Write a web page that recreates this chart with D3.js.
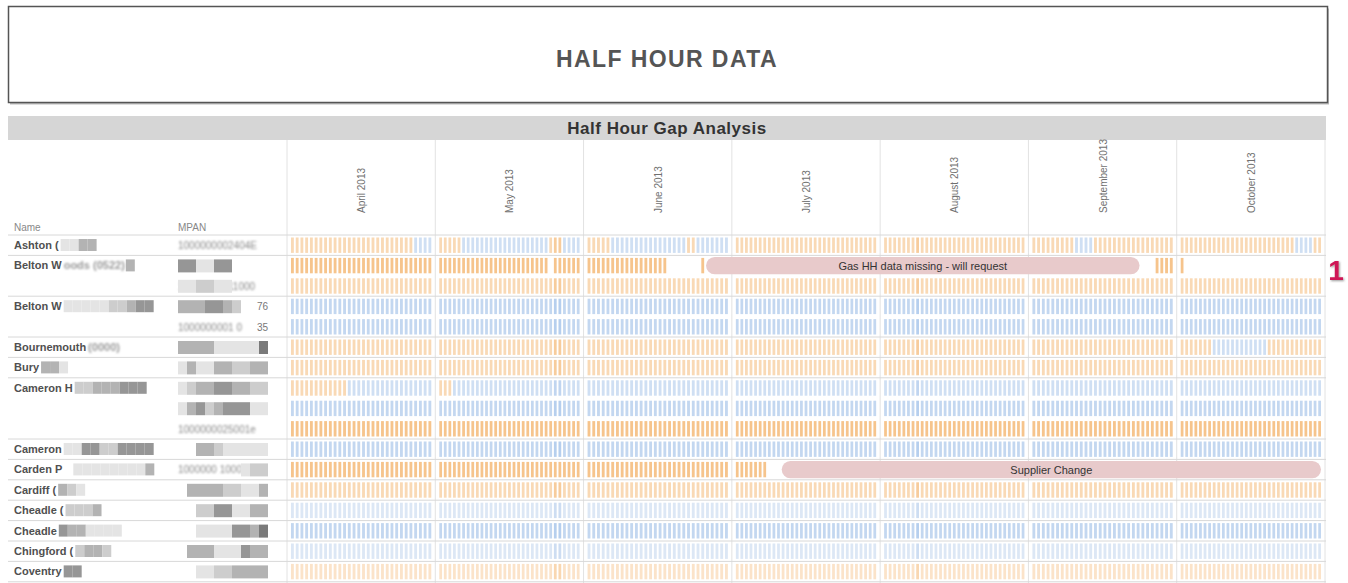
<!DOCTYPE html>
<html>
<head>
<meta charset="utf-8">
<script src="https://cdn.jsdelivr.net/npm/d3@7"></script>
<style>
  body { margin: 0; background: #fff; }
  svg { display: block; font-family: "Liberation Sans", Arial, sans-serif; }
</style>
</head>
<body>
<svg id="chart" width="1348" height="583"></svg>
<script>
// months across the top
const months = ["April 2013", "May 2013", "June 2013", "July 2013", "August 2013", "September 2013", "October 2013"];

// sites: readable part of the name, blurred part, mosaic tiles (shade digits), meters per site
const siteNames = ["Ashton (", "Belton W", "Belton W", "Bournemouth", "Bury", "Cameron H", "Cameron", "Carden P", "Cardiff (", "Cheadle (", "Cheadle", "Chingford (", "Coventry"];
const siteBlur = ["", "oods (0522)", "", "(0000)", "", "", "", "", "", "", "", "", ""];
const siteMask = ["1133", "3", "1111122344", "", "331", "22333444", "1144224444", "0111111113", "321", "2223", "4331111", "2332", "44"];
const siteMeters = [1, 2, 2, 1, 1, 3, 1, 1, 1, 1, 1, 1, 1];

// one entry per meter row: g = gas (orange), e = electricity (blue)
const meterType = ["g", "g", "g", "e", "e", "g", "g", "e", "e", "g", "e", "g", "g", "e", "e", "e", "g"];
const meterLevel = [2, 4, 2, 3, 3, 2, 2, 2, 3, 4, 3, 4, 2, 1, 3, 1, 1];
const meterSwitch = [
  [["2013-04-27", "2013-04-30", "e"], ["2013-05-06", "2013-05-24", "e"], ["2013-05-28", "2013-05-31", "e"],
   ["2013-06-06", "2013-06-21", "e"], ["2013-06-24", "2013-06-30", "e"], ["2013-09-10", "2013-09-13", "e"],
   ["2013-10-26", "2013-10-29", "e"]],
  [], [], [], [],
  [["2013-10-08", "2013-10-19", "e"]],
  [],
  [["2013-04-01", "2013-04-12", "g"], ["2013-05-01", "2013-05-03", "g"]],
  [], [], [], [], [], [], [], [], []
];
const meterGaps = [
  [],
  [["2013-05-25", "2013-05-25"], ["2013-06-18", "2013-06-24"], ["2013-06-26", "2013-09-26"], ["2013-10-02", "2013-10-31"]],
  [], [], [], [], [], [], [], [], [],
  [["2013-07-08", "2013-10-31"]],
  [], [], [], [], []
];
const mpanMask = ["", "441144", "1122110000", "3334432", "", "3333111115", "1311332233", "1233443322", "1342344411", "",
  "0033211111", "0000000122", "0333322113", "0022441133", "0011114435", "0333111433", "0011223333"];
const mpanFaint = ["1000000002404E", "", "10000000011000", "", "1000000001 0", "", "", "", "", "1000000025001e",
  "", "1000000 1000", "", "", "", "", ""];
const mpanSuffix = ["", "", "", "76", "35", "", "", "", "", "", "", "", "", "", "", "", ""];

// days where readings are heavier across most meters
const peakDays = ["2013-05-26", "2013-05-27", "2013-08-08"];

// notes drawn over a meter row
const notes = [
  { meter: 1, from: "2013-06-26", to: "2013-09-23", text: "Gas HH data missing - will request" },
  { meter: 11, from: "2013-07-11", to: "2013-10-31", text: "Supplier Change" }
];

const svg = d3.select("#chart");

const tableL = 8, tableR = 1326;
const dataL = 287, dataR = 1325;
const rowTop = 235, rowH = 20.4;

const parseDay = d3.timeParse("%Y-%m-%d");
const parseMonth = d3.timeParse("%B %Y");
const fmtMonth = d3.timeFormat("%B %Y");
const monthStart = months.map(parseMonth);

const xMonth = d3.scaleBand().domain(months).range([dataL, dataR]);
const dayScales = monthStart.map(m => d3.scaleBand()
  .domain(d3.range(1, d3.timeDay.count(m, d3.timeMonth.offset(m, 1)) + 1))
  .range([4, xMonth.bandwidth() - 4])
  .paddingInner(0.4));

const xDay = date => {
  const i = months.indexOf(fmtMonth(date));
  return xMonth(months[i]) + dayScales[i](date.getDate());
};
const dayW = date => dayScales[months.indexOf(fmtMonth(date))].bandwidth();

const nMeters = meterType.length;
const yRow = d3.scaleBand().domain(d3.range(nMeters)).range([rowTop, rowTop + nMeters * rowH]);

const ramp = {
  g: d3.scaleLinear().domain([1, 4]).range(["#fbe3c9", "#f6c48c"]).clamp(true),
  e: d3.scaleLinear().domain([1, 4]).range(["#dce7f5", "#b6cfee"]).clamp(true)
};
const greys = ["#ffffff", "#e4e4e4", "#cdcdcd", "#b3b3b3", "#969696", "#7a7a7a"];

// blur filter for redacted text
const defs = svg.append("defs");
defs.append("filter").attr("id", "blur").append("feGaussianBlur").attr("stdDeviation", 0.9);
const sh = defs.append("filter").attr("id", "shadow").attr("x", "-50%").attr("y", "-50%").attr("width", "200%").attr("height", "200%");
sh.append("feDropShadow").attr("dx", 1).attr("dy", 1).attr("stdDeviation", 0.8).attr("flood-color", "#555").attr("flood-opacity", 0.6);

/* top title box */
svg.append("rect").attr("x", 10).attr("y", 8.5).attr("width", 1319).attr("height", 96).attr("fill", "#bbb");
svg.append("rect").attr("x", 8.5).attr("y", 6.5).attr("width", 1319).attr("height", 96)
  .attr("fill", "#fff").attr("stroke", "#555").attr("stroke-width", 1.5);
svg.append("text").attr("x", 667).attr("y", 67).attr("text-anchor", "middle")
  .attr("font-size", 23).attr("font-weight", "bold").attr("fill", "#555")
  .attr("letter-spacing", 1.4)
  .text("HALF HOUR DATA");

/* grey band */
svg.append("rect").attr("x", tableL).attr("y", 116).attr("width", tableR - tableL).attr("height", 24).attr("fill", "#d6d6d6");
svg.append("text").attr("x", 667).attr("y", 134).attr("text-anchor", "middle")
  .attr("font-size", 17).attr("font-weight", "bold").attr("fill", "#333")
  .attr("letter-spacing", 0.5)
  .text("Half Hour Gap Analysis");

/* grid lines */
const grid = svg.append("g");
grid.selectAll("line.v").data(months.map(m => xMonth(m)).concat([dataR]))
  .enter().append("line")
  .attr("x1", d => d).attr("x2", d => d).attr("y1", 140).attr("y2", 583)
  .attr("stroke", "#e2e2e2");

const siteStart = siteMeters.map((n, i) => d3.sum(siteMeters.slice(0, i)));
const groupLines = [rowTop].concat(siteStart.slice(1).map(s => yRow(s))).concat([rowTop + nMeters * rowH]);
grid.selectAll("line.h").data(groupLines)
  .enter().append("line")
  .attr("x1", tableL).attr("x2", tableR).attr("y1", d => d).attr("y2", d => d)
  .attr("stroke", "#d8d8d8");

/* column headers */
svg.append("text").attr("x", 14).attr("y", 231).attr("font-size", 10).attr("fill", "#888").text("Name");
svg.append("text").attr("x", 178).attr("y", 231).attr("font-size", 10).attr("fill", "#888").text("MPAN");

svg.selectAll("text.month").data(months)
  .enter().append("text")
  .attr("transform", d => `translate(${xMonth(d) + xMonth.bandwidth() / 2 + 4}, 213) rotate(-90)`)
  .attr("font-size", 10).attr("fill", "#707070")
  .text(d => d);

/* bars */
const allDays = d3.timeDay.range(monthStart[0], d3.timeMonth.offset(monthStart[monthStart.length - 1], 1));
const inRange = (d, r) => d >= parseDay(r[0]) && d <= parseDay(r[1]);
const peaks = peakDays.map(p => +parseDay(p));

const bars = [];
meterType.forEach((type, i) => {
  allDays.forEach(day => {
    if (meterGaps[i].some(r => inRange(day, r))) return;
    let t = type;
    meterSwitch[i].forEach(r => { if (inRange(day, r)) t = r[2]; });
    const lvl = meterLevel[i] + (peaks.includes(+day) ? 1.2 : 0);
    bars.push({ meter: i, day: day, color: ramp[t](lvl) });
  });
});

svg.append("g").selectAll("rect").data(bars)
  .enter().append("rect")
  .attr("x", d => xDay(d.day))
  .attr("width", d => dayW(d.day))
  .attr("y", d => yRow(d.meter) + 2.5)
  .attr("height", rowH - 5)
  .attr("fill", d => d.color);

/* notes */
const noteG = svg.append("g").selectAll("g").data(notes).enter().append("g");
noteG.append("rect")
  .attr("x", d => xDay(parseDay(d.from)))
  .attr("width", d => xDay(parseDay(d.to)) + dayW(parseDay(d.to)) - xDay(parseDay(d.from)))
  .attr("y", d => yRow(d.meter) + 1.5)
  .attr("height", rowH - 3)
  .attr("rx", (rowH - 3) / 2)
  .attr("fill", "#e8cacb");
noteG.append("text")
  .attr("x", d => (xDay(parseDay(d.from)) + xDay(parseDay(d.to)) + dayW(parseDay(d.to))) / 2)
  .attr("y", d => yRow(d.meter) + rowH / 2 + 4)
  .attr("text-anchor", "middle").attr("font-size", 11).attr("fill", "#333")
  .text(d => d.text);

/* site names with redaction */
const drawTiles = (g, mask, x0, y, h) => {
  mask.split("").forEach((c, k) => {
    if (c === "0") return;
    g.append("rect").attr("x", x0 + k * 9).attr("y", y).attr("width", 9).attr("height", h).attr("fill", greys[+c]);
  });
};

siteNames.forEach((name, i) => {
  const y = yRow(siteStart[i]);
  const g = svg.append("g");
  const t = g.append("text").attr("x", 14).attr("y", y + 14)
    .attr("font-size", 11).attr("font-weight", "bold").attr("fill", "#505050").text(name);
  let x = 14 + t.node().getComputedTextLength() + 2;
  if (siteBlur[i]) {
    const b = g.append("text").attr("x", x).attr("y", y + 14)
      .attr("font-size", 11).attr("font-weight", "bold").attr("fill", "#9a9a9a")
      .attr("filter", "url(#blur)").text(siteBlur[i]);
    x += b.node().getComputedTextLength() + 1;
  }
  drawTiles(g, siteMask[i], x, y + 4, 12);
});

/* MPAN column */
d3.range(nMeters).forEach(i => {
  const y = yRow(i);
  const g = svg.append("g");
  if (mpanFaint[i]) {
    g.append("text").attr("x", 178).attr("y", y + 14).attr("font-size", 10)
      .attr("fill", "#8a8a8a").attr("filter", "url(#blur)").text(mpanFaint[i]);
  }
  drawTiles(g, mpanMask[i], 178, y + 4, 13);
  if (mpanSuffix[i]) {
    g.append("text").attr("x", 268).attr("y", y + 14).attr("text-anchor", "end")
      .attr("font-size", 10).attr("fill", "#777").text(mpanSuffix[i]);
  }
});

/* callout marker */
svg.append("text").attr("x", 1336).attr("y", 280).attr("text-anchor", "middle")
  .attr("font-size", 28).attr("font-weight", "bold").attr("fill", "#cf1657")
  .attr("filter", "url(#shadow)").text("1");
</script>
</body>
</html>
